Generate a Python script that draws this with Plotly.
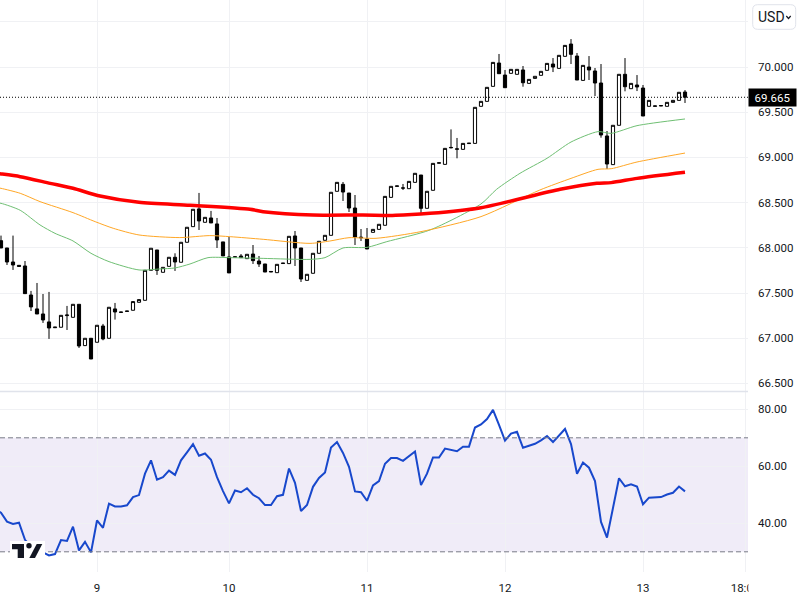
import plotly.graph_objects as go

bars = list(range(115))
opens = [68.079,67.998,67.843,67.806,67.799,67.478,67.324,67.268,67.180,67.116,67.121,67.250,67.231,67.375,66.918,66.999,66.955,67.135,66.999,67.324,
         67.285,67.296,67.309,67.397,67.419,67.751,67.976,67.729,67.795,67.895,67.840,68.061,68.234,68.430,68.282,68.330,68.264,68.065,67.899,67.896,
         67.909,67.880,67.931,67.854,67.821,67.732,67.725,67.826,67.825,68.131,67.998,67.640,67.718,67.939,68.083,68.138,68.625,68.702,68.606,68.440,
         68.118,68.097,68.171,68.204,68.249,68.558,68.680,68.662,68.654,68.724,68.805,68.437,68.636,68.936,68.923,69.106,69.090,69.089,69.153,69.155,
         69.565,69.620,69.786,70.044,69.911,69.930,69.919,69.967,69.819,69.874,69.908,69.963,70.033,69.985,70.118,70.254,70.121,69.852,70.000,69.956,
         69.823,69.237,68.920,69.355,69.919,69.760,69.801,69.767,69.565,69.565,69.569,69.565,69.609,69.631,69.723]
highs = [68.135,67.998,68.135,67.806,67.854,67.523,67.611,67.489,67.512,67.122,67.253,67.357,67.375,67.375,66.999,66.999,67.143,67.158,67.342,67.390,
         67.289,67.300,67.405,67.427,67.751,67.995,67.976,67.784,67.895,67.939,68.061,68.227,68.426,68.607,68.337,68.408,68.330,68.065,68.120,67.900,
         67.931,67.928,68.031,67.909,67.821,67.738,67.817,67.830,68.127,68.186,67.998,67.707,67.939,68.072,68.138,68.614,68.724,68.728,68.606,68.584,
         68.208,68.219,68.204,68.260,68.569,68.680,68.684,68.706,68.735,68.824,68.805,68.625,68.934,68.940,69.100,69.310,69.215,69.155,69.157,69.554,
         69.620,69.775,70.051,70.144,69.967,69.974,69.974,70.011,69.863,69.897,69.952,70.040,70.099,70.129,70.239,70.309,70.155,70.018,70.121,69.989,
         70.033,69.292,69.355,69.919,70.099,69.819,69.911,69.801,69.631,69.569,69.573,69.609,69.631,69.720,69.745]
lows = [67.998,67.810,67.755,67.795,67.493,67.301,67.268,67.169,66.992,67.116,67.121,67.091,67.231,66.892,66.918,66.770,66.955,66.977,66.999,67.206,
        67.285,67.296,67.309,67.397,67.419,67.751,67.700,67.729,67.795,67.744,67.840,68.061,68.234,68.197,68.282,68.275,67.998,67.910,67.722,67.896,
        67.891,67.880,67.821,67.788,67.732,67.732,67.725,67.826,67.825,67.799,67.622,67.640,67.718,67.939,68.083,68.138,68.625,68.518,68.396,68.031,
        68.075,67.987,68.171,68.204,68.249,68.558,68.680,68.639,68.654,68.724,68.385,68.437,68.636,68.936,68.923,69.100,68.990,69.089,69.153,69.155,
        69.565,69.620,69.786,69.926,69.771,69.930,69.919,69.782,69.819,69.874,69.908,69.963,69.944,69.985,70.118,70.033,69.856,69.852,69.856,69.679,
        69.218,68.872,68.920,69.355,69.731,69.760,69.734,69.458,69.565,69.565,69.569,69.565,69.609,69.631,69.602]
closes = [67.998,67.843,67.810,67.795,67.493,67.346,67.268,67.202,67.113,67.122,67.253,67.256,67.375,66.914,66.999,66.770,67.143,66.992,67.342,67.290,
          67.289,67.300,67.405,67.427,67.751,67.995,67.751,67.784,67.895,67.843,68.061,68.227,68.426,68.297,68.337,68.275,68.087,67.910,67.722,67.900,
          67.891,67.928,67.858,67.821,67.732,67.738,67.817,67.830,68.127,67.998,67.655,67.707,67.939,68.072,68.138,68.614,68.724,68.617,68.440,68.119,
          68.112,67.987,68.204,68.260,68.569,68.680,68.684,68.661,68.735,68.824,68.437,68.625,68.934,68.940,69.100,69.110,69.094,69.155,69.157,69.554,
          69.620,69.775,70.051,69.926,69.771,69.974,69.974,69.826,69.863,69.897,69.952,70.040,70.000,70.129,70.239,70.140,69.856,70.018,69.967,69.823,
          69.248,68.927,69.355,69.919,69.782,69.819,69.779,69.458,69.631,69.569,69.573,69.609,69.631,69.720,69.665]

green_bars = [-1,0,3.2,6.5,9,12,15,18,23,26.5,29,31.5,34.5,38.2,43.7,51.5,54,57,61,64.3,71.5,80,82.6,86.5,91,95,99.5,101.7,106,114]
green_vals = [68.50,68.492,68.415,68.253,68.160,68.076,67.939,67.847,67.755,67.766,67.777,67.821,67.891,67.891,67.883,67.872,67.891,67.998,68.005,68.068,68.197,68.485,68.647,68.824,68.990,69.170,69.285,69.266,69.351,69.425]
orange_bars = [-1,0,3.2,6.5,12,15.7,18.7,23,29.8,34.8,38.2,43.7,51.5,54.8,58,62.5,70,80,89.8,95,99.5,101.7,106,114]
orange_vals = [68.67,68.658,68.603,68.511,68.389,68.289,68.216,68.142,68.113,68.135,68.123,68.094,68.049,68.075,68.112,68.105,68.179,68.345,68.639,68.768,68.868,68.875,68.949,69.048]
red_bars = [-1,0,3.2,8.2,12,16.5,23,31.5,41.5,43.7,52,60.3,65.8,71.5,80,93.2,99.3,101.7,106,114]
red_vals = [68.825,68.817,68.787,68.713,68.658,68.573,68.503,68.470,68.426,68.400,68.363,68.363,68.359,68.381,68.444,68.647,68.713,68.721,68.768,68.835]

rsi_bars = [-1] + bars
rsi_vals = [45,43.7,40.6,39.8,40.2,34.2,32,31.2,29.8,28.7,29.2,34.1,33.8,38.8,30.5,33.5,29.8,41,38.4,46.9,45.9,
            45.9,46.3,49.2,49.9,57.4,62.1,55.3,56.2,58.5,57,62.1,64.9,67.8,63.7,64.5,62.3,56.2,51.3,47,51.5,
            50.9,52.3,50,48.8,46.4,46.4,49.5,50,59.2,54.2,44.3,46.4,52.8,55.9,57.8,66.6,68.5,64.7,59.8,51.2,
            50.9,47.9,53.3,54.8,60.9,62.9,62.9,61.9,63.6,65.2,53.4,57.4,63.1,63.1,66.2,65.8,65.3,66.9,66.9,73.6,
            74.7,76.6,79.8,74.5,69,71.5,72.1,66.5,67.2,67.9,69.1,70.6,68.5,71,73.1,67.8,57.4,61.3,59.5,54.8,
            40.5,35,45.5,55.8,53,53.7,52.9,46.7,49,49,49.2,50.1,50.7,52.9,51.2]

time_ticks = [16, 38, 61, 84, 107, 124]
time_labels = ["9", "10", "11", "12", "13", "18:00"]
price_ticks = [66.5, 67, 67.5, 68, 68.5, 69, 69.5, 70, 70.5]
price_labels = ["66.500", "67.000", "67.500", "68.000", "68.500", "69.000", "69.500", "70.000", ""]
rsi_ticks = [40, 60, 80]
rsi_labels = ["40.00", "60.00", "80.00"]
last_price = 69.665
rsi_upper, rsi_lower = 70, 30
currency = "USD"

W, H = 800, 600
def px(x): return x / W
def py(y): return 1 - y / H

INK = "#131722"
GRID = "#f0f1f4"
FONT = "Roboto"
LABEL = 11.5

fig = go.Figure()
fig.add_trace(go.Scatter(x=green_bars, y=green_vals, mode="lines", line=dict(color="#6fbf73", width=1, shape="spline", smoothing=0.7), xaxis="x", yaxis="y", showlegend=False))
fig.add_trace(go.Scatter(x=orange_bars, y=orange_vals, mode="lines", line=dict(color="#ffa726", width=1, shape="spline", smoothing=0.7), xaxis="x", yaxis="y", showlegend=False))
fig.add_trace(go.Scatter(x=red_bars, y=red_vals, mode="lines", line=dict(color="#ff0000", width=3.5, shape="spline", smoothing=0.7), xaxis="x", yaxis="y", showlegend=False))
fig.add_trace(go.Candlestick(
    x=bars, open=opens, high=highs, low=lows, close=closes, xaxis="x", yaxis="y", showlegend=False, whiskerwidth=0,
    increasing=dict(fillcolor="#ffffff", line=dict(color="#000000", width=1)),
    decreasing=dict(fillcolor="#000000", line=dict(color="#000000", width=1)),
))
fig.add_trace(go.Scatter(x=rsi_bars, y=rsi_vals, mode="lines", line=dict(color="#1848cc", width=2), xaxis="x2", yaxis="y2", showlegend=False))

x_range = [(0 - 1) / 6, (748 - 1) / 6]
x_dom = [0, 748 / W]
common_x = dict(range=x_range, domain=x_dom, tickmode="array", tickvals=time_ticks, showgrid=True, gridcolor=GRID,
                gridwidth=1, zeroline=False, showline=False, ticks="", rangeslider=dict(visible=False), automargin=False)

shapes = [
    dict(type="rect", xref="x2", yref="y2", x0=x_range[0], x1=x_range[1], y0=rsi_lower, y1=rsi_upper,
         fillcolor="rgba(126,87,194,0.115)", line=dict(width=0), layer="below"),
    dict(type="line", xref="x2", yref="y2", x0=x_range[0], x1=x_range[1], y0=rsi_upper, y1=rsi_upper, line=dict(color="#787b86", width=1, dash="5px,3px")),
    dict(type="line", xref="x2", yref="y2", x0=x_range[0], x1=x_range[1], y0=rsi_lower, y1=rsi_lower, line=dict(color="#787b86", width=1, dash="5px,3px")),
    dict(type="line", xref="paper", yref="paper", x0=0, x1=px(748), y0=py(391.5), y1=py(391.5), line=dict(color="#e0e3eb", width=1.5)),
    dict(type="line", xref="x", yref="y", x0=x_range[0], x1=x_range[1], y0=last_price, y1=last_price, line=dict(color="#000000", width=1, dash="1px,2px")),
]
def rrect(x0, y0, x1, y1, r):
    return (f"M {px(x0+r)} {py(y0)} L {px(x1-r)} {py(y0)} Q {px(x1)} {py(y0)} {px(x1)} {py(y0+r)} "
            f"L {px(x1)} {py(y1-r)} Q {px(x1)} {py(y1)} {px(x1-r)} {py(y1)} L {px(x0+r)} {py(y1)} "
            f"Q {px(x0)} {py(y1)} {px(x0)} {py(y1-r)} L {px(x0)} {py(y0+r)} Q {px(x0)} {py(y0)} {px(x0+r)} {py(y0)} Z")
shapes.append(dict(type="path", xref="paper", yref="paper", path=rrect(752.7, 4.7, 795.7, 29.3, 5), fillcolor="#ffffff", line=dict(color="#e0e3eb", width=1)))
shapes.append(dict(type="path", xref="paper", yref="paper", path=f"M {px(786.3)} {py(16)} L {px(788.5)} {py(18.5)} L {px(790.7)} {py(16)}", line=dict(color=INK, width=1.2)))
def poly(pts):
    return "M " + " L ".join(f"{px(a)} {py(b)}" for a, b in pts) + " Z"
shapes.append(dict(type="rect", xref="paper", yref="paper", x0=px(10), x1=px(45), y0=py(558), y1=py(541), fillcolor="#ffffff", line=dict(width=0)))
shapes.append(dict(type="path", xref="paper", yref="paper", path=poly([(12,544),(24,544),(24,558),(17.7,558),(17.7,549.3),(12,549.3)]), fillcolor=INK, line=dict(width=0)))
shapes.append(dict(type="circle", xref="paper", yref="paper", x0=px(26.3), x1=px(31.7), y0=py(548.4), y1=py(543), fillcolor=INK, line=dict(width=0)))
shapes.append(dict(type="path", xref="paper", yref="paper", path=poly([(36.7,544),(42.3,544),(35,558),(29.3,558)]), fillcolor=INK, line=dict(width=0)))
clip_box = dict(x=px(748), y=py(576), xref="paper", yref="paper", xanchor="left", yanchor="top", text=" ", showarrow=False,
                width=52, height=24, bgcolor="#ffffff", borderpad=0)

annotations = [
    dict(x=px(756), y=py(17), xref="paper", yref="paper", xanchor="left", yanchor="middle", text=currency, showarrow=False,
         font=dict(family=FONT, size=14, color=INK)),
    dict(x=px(772.5), y=last_price, xref="paper", yref="y", xanchor="center", yanchor="middle", text=f"{last_price:.3f}", showarrow=False,
         font=dict(family=FONT, size=LABEL, color="#ffffff"), bgcolor="#000000", width=47, height=17, borderpad=0),
    clip_box,
]

fig.update_layout(
    width=W, height=H, margin=dict(l=0, r=0, t=0, b=0), paper_bgcolor="#ffffff", plot_bgcolor="#ffffff",
    font=dict(family=FONT, size=12, color=INK), showlegend=False, boxgap=0.25,
    xaxis=dict(**common_x, anchor="y", showticklabels=False),
    xaxis2=dict(**common_x, anchor="y2", showticklabels=True, ticktext=time_labels, ticklabelstandoff=7,
                tickfont=dict(family=FONT, size=LABEL, color=INK)),
    yaxis=dict(domain=[py(391), 1], range=[70 - (391 - 67) / 90.4, 70 + 67 / 90.4], anchor="x", side="right",
               tickmode="array", tickvals=price_ticks, ticktext=price_labels, showgrid=True, gridcolor=GRID, zeroline=False,
               showline=False, ticks="", ticklabelstandoff=9, tickfont=dict(family=FONT, size=LABEL, color=INK), automargin=False),
    yaxis2=dict(domain=[py(572), py(392)], range=[80 - (572 - 409.3) / 2.85, 80 + (409.3 - 392) / 2.85], anchor="x2", side="right",
                tickmode="array", tickvals=rsi_ticks, ticktext=rsi_labels, showgrid=True, gridcolor=GRID, zeroline=False,
                showline=False, ticks="", ticklabelstandoff=9, tickfont=dict(family=FONT, size=LABEL, color=INK), automargin=False),
    shapes=shapes, annotations=annotations,
)
fig.write_html("out.html", config=dict(displayModeBar=False),
               post_script="document.body.style.margin='0';document.documentElement.style.overflow='hidden';")
